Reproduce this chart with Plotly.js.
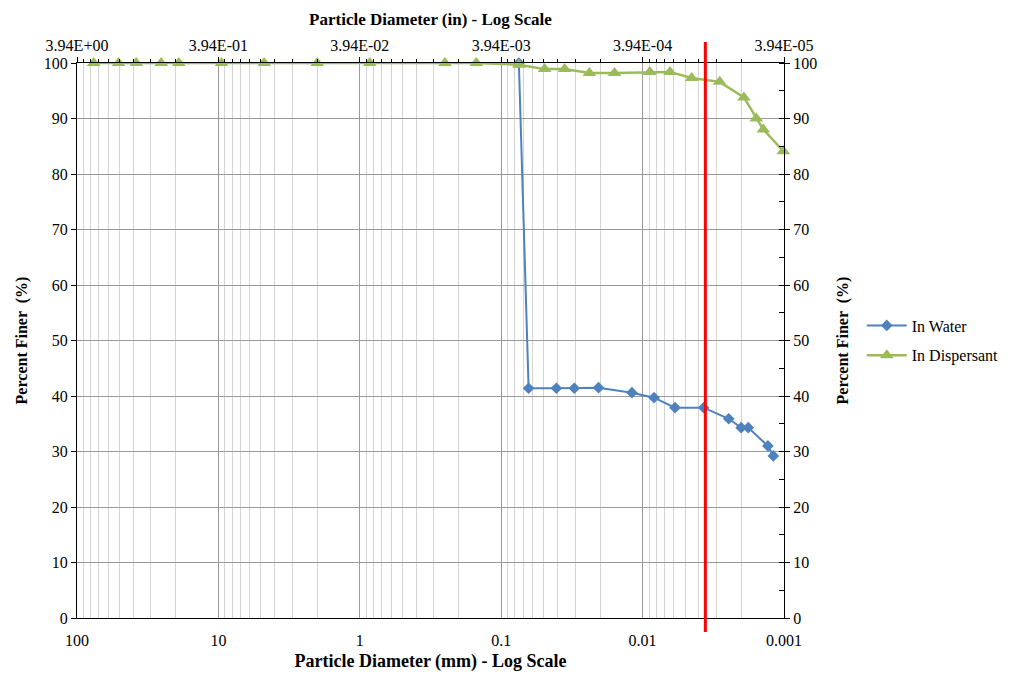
<!DOCTYPE html>
<html><head><meta charset="utf-8">
<script src="https://cdn.plot.ly/plotly-3.0.1.min.js"></script>
<style>html,body{margin:0;padding:0;background:#fff}#c{width:1011px;height:677px}</style>
</head><body><div id="c"></div>
<script>
// Sieve + hydrometer diameters (mm)
const dispDiam = [76.2, 50.8, 38.1, 25.4, 19.05, 9.5, 4.75, 2.0, 0.85, 0.25, 0.15, 0.075,
  0.0493, 0.0356, 0.0238, 0.0158, 0.0089, 0.0064, 0.0045, 0.00285, 0.00192, 0.00157, 0.0014, 0.00101];
const dispPct = [100, 100, 100, 100, 100, 100, 100, 100, 100, 100, 100, 99.7,
  98.9, 98.9, 98.2, 98.2, 98.4, 98.4, 97.3, 96.6, 93.8, 90.0, 88.0, 84.1];
const waterDiam = [0.075, 0.0640, 0.0407, 0.0304, 0.0205, 0.0119, 0.0083, 0.0059, 0.0037, 0.00246, 0.00201, 0.00179, 0.0013, 0.00119];
const waterPct = [100, 41.4, 41.4, 41.4, 41.5, 40.6, 39.7, 37.9, 37.9, 35.9, 34.3, 34.3, 31.0, 29.2];
const claySize = 0.0036;
const majorTicks = [100, 10, 1, 0.1, 0.01, 0.001];
const bottomLabels = ['100', '10', '1', '0.1', '0.01', '0.001'];
const topLabels = ['3.94E+00', '3.94E-01', '3.94E-02', '3.94E-03', '3.94E-04', '3.94E-05'];
const yTicks = [0, 10, 20, 30, 40, 50, 60, 70, 80, 90, 100];

const minorVals = [];
for (let e = -3; e < 2; e++) for (let m = 2; m <= 9; m++) minorVals.push(m * Math.pow(10, e));

const F = 'Liberation Serif, Times New Roman, serif';
const traces = [
  {x: waterDiam, y: waterPct, name: 'In Water', mode: 'lines+markers', type: 'scatter', legendgroup: 'a', cliponaxis: false,
   line: {color: '#4F81BD', width: 2}, marker: {symbol: 'diamond', size: 9, color: '#4F81BD'}},
  {x: dispDiam, y: dispPct, name: 'In Dispersant', mode: 'lines+markers', type: 'scatter', legendgroup: 'b', cliponaxis: false,
   xaxis: 'x2', yaxis: 'y2',
   line: {color: '#9BBB59', width: 2.5}, marker: {symbol: 'triangle-up', size: 12, color: '#9BBB59'}}
];
const layout = {
  width: 1011, height: 677, paper_bgcolor: '#fff', plot_bgcolor: '#fff',
  margin: {l: 77, r: 227, t: 63, b: 59, autoexpand: false},
  font: {family: F, size: 16, color: '#000'},
  showlegend: true,
  legend: {x: 1.11, y: 0.5, xanchor: 'left', yanchor: 'middle', font: {family: F, size: 16}, tracegroupgap: 6, itemwidth: 40},
  xaxis: {type: 'log', range: [2, -3], tickmode: 'array', tickvals: majorTicks, ticktext: bottomLabels, automargin: false,
    showgrid: true, gridcolor: '#9a9a9a', gridwidth: 1, showline: true, linecolor: '#000', linewidth: 1,
    ticks: '', tickfont: {family: F, size: 16}, zeroline: false, ticklabelstandoff: 8,
    minor: {tickvals: minorVals, showgrid: true, gridcolor: '#d4d4d4', ticks: ''},
    title: {text: '<b>Particle Diameter (mm) - Log Scale</b>', font: {family: F, size: 18}, standoff: 6}},
  xaxis2: {type: 'log', range: [2, -3], overlaying: 'x', side: 'top', anchor: 'y2', tickmode: 'array', automargin: false,
    tickvals: majorTicks, ticktext: topLabels, showgrid: false, showline: true, linecolor: '#000',
    ticks: 'outside', ticklen: 5, tickcolor: '#000', tickfont: {family: F, size: 16},
    minor: {tickvals: minorVals, ticks: 'outside', ticklen: 3, tickcolor: '#000', showgrid: false},
    title: {text: '<b>Particle Diameter (in) - Log Scale</b>', font: {family: F, size: 17}, standoff: 6}},
  yaxis: {range: [0, 100], tickmode: 'array', tickvals: yTicks, showgrid: true, gridcolor: '#9a9a9a', automargin: false,
    showline: true, linecolor: '#000', ticks: 'outside', ticklen: 5, tickcolor: '#000', zeroline: false,
    tickfont: {family: F, size: 16},
    title: {text: '<b>Percent Finer  (%)</b>', font: {family: F, size: 16}, standoff: 12}},
  yaxis2: {range: [0, 100], overlaying: 'y', side: 'right', anchor: 'x2', tickmode: 'array', tickvals: yTicks, automargin: false,
    showgrid: false, showline: true, linecolor: '#000', ticks: 'outside', ticklen: 5, tickcolor: '#000',
    zeroline: false, tickfont: {family: F, size: 16},
    minor: {dtick: 5, ticks: 'inside', ticklen: 5, tickcolor: '#000'},
    title: {text: '<b>Percent Finer  (%)</b>', font: {family: F, size: 16}, standoff: 20}},
  shapes: [{type: 'line', xref: 'x', yref: 'paper', x0: claySize, x1: claySize, y0: -0.025, y1: 1.038,
    line: {color: '#FF0000', width: 3}}]
};
Plotly.newPlot('c', traces, layout, {displayModeBar: false, staticPlot: true});
</script></body></html>
